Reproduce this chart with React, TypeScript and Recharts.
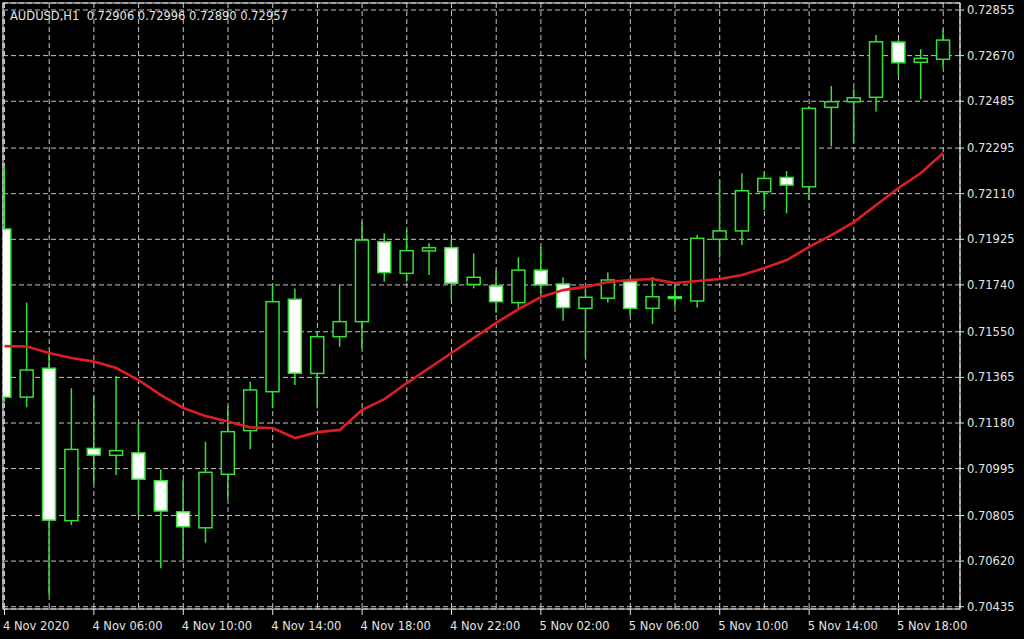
import { ComposedChart, Bar, Line, XAxis, YAxis, CartesianGrid, ReferenceArea } from "recharts";

// AUDUSD H1, 4 Nov 02:00 .. 5 Nov 20:00 (43 candles)
const OPEN = [
  0.71967, 0.71285, 0.71402, 0.70784, 0.71077, 0.71049, 0.71059, 0.70946, 0.7082, 0.70755,
  0.70972, 0.71149, 0.71307, 0.71682, 0.71381, 0.7153, 0.71591, 0.71915, 0.71787, 0.71878,
  0.71891, 0.71742, 0.71736, 0.71668, 0.718, 0.71744, 0.71645, 0.71686, 0.71753, 0.71645,
  0.71692, 0.71675, 0.71925, 0.71959, 0.72118, 0.72176, 0.72138, 0.7246, 0.72483, 0.72501,
  0.72725, 0.72643, 0.72655,
];
const HIGH = [
  0.72226, 0.71668, 0.71469, 0.71321, 0.71289, 0.71371, 0.71181, 0.70992, 0.70949, 0.71104,
  0.71249, 0.71347, 0.7174, 0.71726, 0.7155, 0.7174, 0.71996, 0.71949, 0.71963, 0.71909,
  0.71925, 0.71868, 0.718, 0.71852, 0.71895, 0.71771, 0.71726, 0.7179, 0.71763, 0.71772,
  0.7174, 0.71942, 0.72166, 0.72193, 0.72199, 0.72202, 0.72466, 0.72547, 0.72537, 0.72754,
  0.72733, 0.72696, 0.72777,
];
const LOW = [
  0.71265, 0.71244, 0.70482, 0.70766, 0.70935, 0.70969, 0.70807, 0.70591, 0.70624, 0.70694,
  0.70872, 0.71074, 0.7124, 0.71334, 0.7124, 0.71489, 0.71483, 0.71753, 0.71753, 0.7178,
  0.71679, 0.71726, 0.71627, 0.71638, 0.71706, 0.71595, 0.71442, 0.71668, 0.71614, 0.71581,
  0.71652, 0.71648, 0.71848, 0.71902, 0.72044, 0.7203, 0.72084, 0.72301, 0.72317, 0.72443,
  0.72591, 0.72493, 0.72623,
];
const CLOSE = [
  0.71285, 0.71395, 0.70786, 0.71073, 0.7105, 0.71068, 0.70952, 0.70823, 0.70759, 0.7098,
  0.71145, 0.71314, 0.71672, 0.71382, 0.7153, 0.71591, 0.71922, 0.7179, 0.71879, 0.71891,
  0.71747, 0.71771, 0.71672, 0.718, 0.7174, 0.71648, 0.7169, 0.7176, 0.71645, 0.71692,
  0.71685, 0.71929, 0.71959, 0.72122, 0.72172, 0.72145, 0.72456, 0.72483, 0.72499, 0.72726,
  0.72641, 0.72659, 0.72733,
];
const MA = [
  0.71492, 0.7149, 0.71464, 0.71444, 0.71429, 0.71403, 0.71354, 0.71293, 0.71241, 0.71208,
  0.71186, 0.71162, 0.7116, 0.71119, 0.71143, 0.71152, 0.71233, 0.71277, 0.71342, 0.71403,
  0.71464, 0.71525, 0.71586, 0.71642, 0.71691, 0.71719, 0.71732, 0.71752, 0.7176, 0.71764,
  0.71748, 0.71756, 0.71764, 0.7178, 0.71809, 0.71841, 0.71894, 0.71942, 0.71995, 0.72064,
  0.72133, 0.72194, 0.72275,
];

const Y_TICKS = [
  0.72855, 0.7267, 0.72485, 0.72295, 0.7211, 0.71925, 0.7174, 0.7155, 0.71365, 0.7118,
  0.70995, 0.70805, 0.7062, 0.70435,
];
const GRID_KS = [0, 2, 4, 6, 8, 10, 12, 14, 16, 18, 20, 22, 24, 26, 28, 30, 32, 34, 36, 38, 40, 42];
const LABEL_KS = [0, 4, 8, 12, 16, 20, 24, 28, 32, 36, 40];
const LABELS = [
  "4 Nov 2020", "4 Nov 06:00", "4 Nov 10:00", "4 Nov 14:00", "4 Nov 18:00", "4 Nov 22:00",
  "5 Nov 02:00", "5 Nov 06:00", "5 Nov 10:00", "5 Nov 14:00", "5 Nov 18:00",
];

const TITLE = "AUDUSD,H1  0.72906 0.72996 0.72890 0.72957";
const GREEN = "#36e036";
const TEXT = "#e4e4e4";
const FONT = "'DejaVu Sans', sans-serif";
const X_DOMAIN = [-0.067, 42.75];
const Y_DOMAIN = [0.704257, 0.728834];

const data = OPEN.map((o, i) => ({
  k: i,
  open: o,
  high: HIGH[i],
  low: LOW[i],
  close: CLOSE[i],
  range: [LOW[i], HIGH[i]],
  ma: MA[i],
}));

function Candle(props: any) {
  const { x, y, width, height, payload } = props;
  if (x == null || !payload || !height) return null;
  const { open, close, high, low } = payload;
  const cx = x + width / 2;
  const per = height / (high - low);
  const toY = (v: number) => y + (high - v) * per;
  const top = toY(Math.max(open, close));
  const bot = toY(Math.min(open, close));
  const bear = close < open;
  return (
    <g>
      <line x1={cx} x2={cx} y1={y} y2={y + height} stroke={GREEN} strokeWidth={1.5} />
      <rect
        x={cx - 6.5}
        y={top}
        width={13}
        height={Math.max(bot - top, 1.5)}
        fill={bear ? "#ffffff" : "#000000"}
        stroke={GREEN}
        strokeWidth={1.5}
      />
    </g>
  );
}

function TimeTick(props: any) {
  const { x, y, payload } = props;
  const idx = LABEL_KS.indexOf(payload.value);
  if (idx < 0) return null;
  return (
    <g>
      <line x1={x} x2={x} y1={y} y2={y + 6} stroke={TEXT} strokeWidth={1} />
      <text x={x - 1.5} y={y + 21} fill={TEXT} fontSize={11.5} fontFamily={FONT}>
        {LABELS[idx]}
      </text>
    </g>
  );
}

export default function App() {
  return (
    <div style={{ position: "fixed", left: 0, top: 0, width: 1024, height: 639, background: "#000" }}>
      <ComposedChart
        width={1024}
        height={639}
        data={data}
        margin={{ top: 3, right: 0, bottom: 0, left: 3 }}
      >
        <CartesianGrid stroke="#c4c4c4" strokeDasharray="5 3" strokeWidth={1} />
        <XAxis
          dataKey="k"
          type="number"
          domain={X_DOMAIN}
          allowDataOverflow
          ticks={GRID_KS}
          interval={0}
          height={30}
          axisLine={false}
          tickLine={false}
          tickSize={0}
          tickMargin={0}
          tick={<TimeTick />}
        />
        <YAxis
          orientation="right"
          type="number"
          domain={Y_DOMAIN}
          allowDataOverflow
          ticks={Y_TICKS}
          interval={0}
          width={64}
          axisLine={false}
          tickLine={{ stroke: TEXT }}
          tickSize={4}
          tickMargin={3}
          tickFormatter={(v: number) => v.toFixed(5)}
          tick={{ fill: TEXT, fontSize: 11.5, fontFamily: FONT }}
        />
        <Bar dataKey="range" barSize={14} shape={<Candle />} isAnimationActive={false} />
        <Line
          dataKey="ma"
          type="linear"
          stroke="#dc1e24"
          strokeWidth={2.6}
          dot={false}
          activeDot={false}
          isAnimationActive={false}
        />
        <ReferenceArea
          x1={X_DOMAIN[0]}
          x2={X_DOMAIN[1]}
          y1={Y_DOMAIN[0]}
          y2={Y_DOMAIN[1]}
          fill="none"
          stroke="#e8e8e8"
          strokeWidth={1.2}
          ifOverflow="visible"
        />
      </ComposedChart>
      <div
        style={{
          position: "absolute",
          left: 10,
          top: 9,
          color: TEXT,
          fontFamily: FONT,
          fontSize: 11.5,
          whiteSpace: "pre",
          lineHeight: "normal",
        }}
      >
        {TITLE}
      </div>
    </div>
  );
}
